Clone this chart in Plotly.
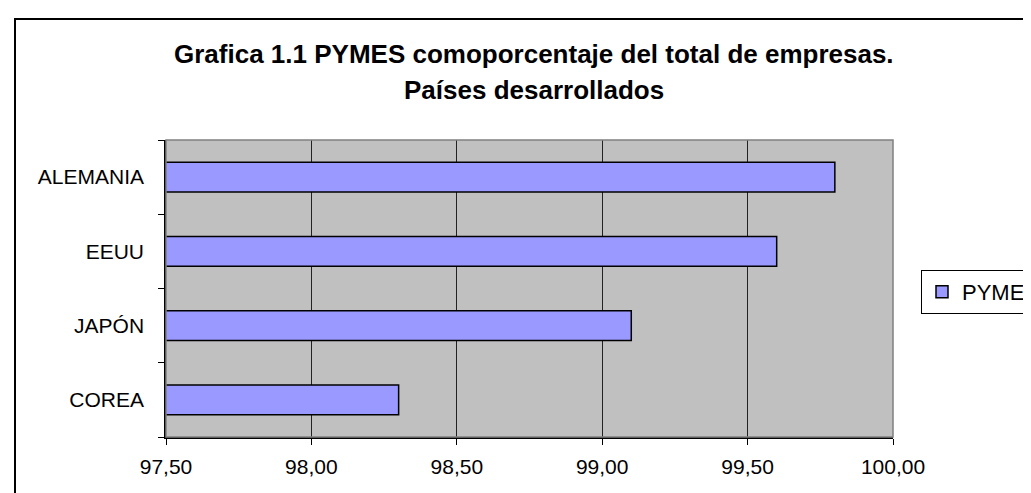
import plotly.graph_objects as go

# datos (de abajo hacia arriba)
paises = ["COREA", "JAPÓN", "EEUU", "ALEMANIA"]
pymes = [98.30, 99.10, 99.60, 99.80]
serie = "PYME"

titulo_1 = "Grafica 1.1 PYMES comoporcentaje del total de empresas."
titulo_2 = "Países desarrollados"

x_min, x_max, paso = 97.5, 100.0, 0.5

W, H = 1031, 493
L, R, T, B = 158, 146, 132, 64
pw, ph = W - L - R, H - T - B

fig = go.Figure()

fig.add_trace(go.Bar(
    y=paises,
    x=pymes,
    base=0,
    orientation='h',
    name=serie,
    marker=dict(color='#9999FF', line=dict(color='black', width=1.5)),
    showlegend=True
))

# marco exterior del grafico (se sale por la derecha y por abajo)
fig.add_shape(
    type="rect",
    xref="paper", yref="paper",
    x0=(7 - L) / pw, x1=2.0,
    y0=-1.0, y1=1 + (T - 11) / ph,
    line=dict(color="black", width=2),
    fillcolor="rgba(0,0,0,0)",
    layer="below"
)

# borde superior y derecho del area de trazado
fig.add_shape(
    type="rect",
    xref="paper", yref="paper",
    x0=0, x1=1, y0=0, y1=1,
    line=dict(color="#808080", width=1.5),
    layer="above"
)

# titulo en dos lineas
for texto, y_px in [(titulo_1, 46), (titulo_2, 82)]:
    fig.add_annotation(
        text="<b>" + texto + "</b>",
        xref="paper", yref="paper",
        x=(526 - L) / pw,
        y=1 + (T - y_px) / ph,
        xanchor="center",
        yanchor="middle",
        showarrow=False,
        font=dict(family="Liberation Sans, Arial", size=26, color="black")
    )

fig.update_layout(
    width=W,
    height=H,
    font=dict(family="Liberation Sans, Arial", size=21, color="black"),
    separators=",.",
    plot_bgcolor="#C0C0C0",
    paper_bgcolor="white",
    bargap=0.6,
    margin=dict(l=L, r=R, t=T, b=B, autoexpand=False),
    xaxis=dict(
        range=[x_min, x_max],
        dtick=paso,
        tick0=x_min,
        tickformat=".2f",
        showgrid=True,
        gridcolor="#222222",
        gridwidth=1,
        zeroline=False,
        showline=True,
        linecolor="black",
        linewidth=1.5,
        ticks="outside",
        ticklen=6,
        tickcolor="black",
        ticklabelstandoff=4,
        tickfont=dict(size=21)
    ),
    yaxis=dict(
        type="category",
        categoryorder="array",
        categoryarray=paises,
        showgrid=False,
        zeroline=False,
        showline=True,
        linecolor="black",
        linewidth=1.5,
        ticks="outside",
        ticklen=6,
        tickcolor="black",
        tickson="boundaries",
        ticklabelstandoff=16,
        tickfont=dict(size=21)
    ),
    legend=dict(
        x=(913 - L) / pw,
        xanchor="left",
        y=1 - (262 - T) / ph,
        yanchor="top",
        bgcolor="white",
        bordercolor="black",
        borderwidth=1,
        font=dict(size=22),
        itemwidth=30
    ),
    hovermode=False
)

fig.write_html("out.html")
